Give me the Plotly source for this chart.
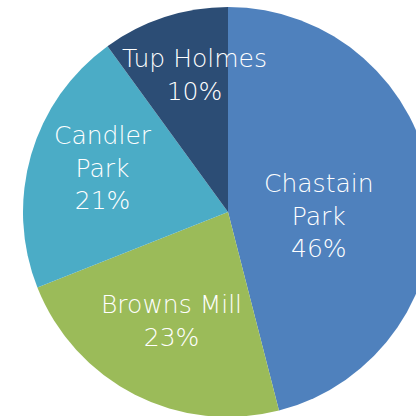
import plotly.graph_objects as go

labels = ["Chastain Park", "Browns Mill", "Candler Park", "Tup Holmes"]
values = [46, 23, 21, 10]
colors = ["#4F81BD", "#9BBB59", "#4BACC6", "#2C4D75"]
text_labels = ["Chastain<br>Park", "Browns Mill", "Candler<br>Park", "Tup Holmes"]

# label block centres in pixels (layout only)
label_px = [(319, 216), (171, 321), (103, 168), (194, 75)]

W, H = 436, 420
fig = go.Figure(go.Pie(
    labels=labels,
    values=values,
    sort=False,
    direction="clockwise",
    rotation=0,
    marker=dict(colors=colors, line=dict(width=0)),
    textinfo="none",
    domain=dict(x=[23 / W, 433 / W], y=[3 / H, 413 / H]),
    showlegend=False,
    hoverinfo="skip",
))
total = sum(values)
for t, v, (px, py) in zip(text_labels, values, label_px):
    fig.add_annotation(
        x=px / W, y=1 - py / H, xref="paper", yref="paper",
        text=f"{t}<br>{round(100 * v / total)}%",
        showarrow=False, xanchor="center", yanchor="middle", align="center",
        font=dict(family="DejaVu Sans", size=25, color="white", weight=200),
    )
fig.update_layout(
    width=W, height=H,
    margin=dict(l=0, r=0, t=0, b=0),
    paper_bgcolor="white",
)
fig.write_html(
    "out.html",
    config={"displayModeBar": False},
    post_script="document.body.style.margin='0';document.body.style.overflow='hidden';",
)
